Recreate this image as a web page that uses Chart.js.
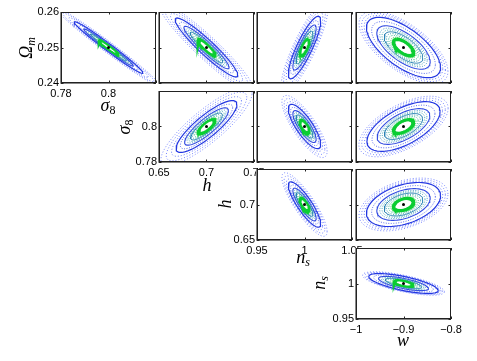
<!DOCTYPE html>
<html>
<head>
<meta charset="utf-8">
<script src="https://cdn.jsdelivr.net/npm/chart.js@4.4.0/dist/chart.umd.min.js"></script>
<style>
  body { margin: 0; background: #fff; }
  #page { position: relative; width: 477px; height: 361px; overflow: hidden; }
  canvas { position: absolute; }
  .lab { position: absolute; font-family: 'Liberation Serif', serif; font-size: 18px; font-style: italic;
         white-space: nowrap; line-height: 1; transform: translate(-50%, -50%); color: #000; }
  .lab.rot { transform: translate(-50%, -50%) rotate(-90deg); }
  .lab sub { font-size: 12px; vertical-align: -3px; }
  .lab .up { font-style: normal; }
</style>
</head>
<body>
<div id="page"></div>
<script>
// parameters: Omega_m, sigma_8, h, n_s, w
const fiducial = [0.25, 0.8, 0.7, 1.0, -0.9];
const axisMin = [0.24, 0.78, 0.65, 0.95, -1];
const axisMax = [0.26, 0.82, 0.75, 1.05, -0.8];
const tickValues = [
  [0.24, 0.25, 0.26],
  [0.78, 0.8, 0.82],
  [0.65, 0.7, 0.75],
  [0.95, 1, 1.05],
  [-1, -0.9, -0.8]
];
const tickLabels = [
  ['0.24', '0.25', '0.26'],
  ['0.78', '0.8', '0.82'],
  ['0.65', '0.7', '0.75'],
  ['0.95', '1', '1.05'],
  ['\u22121', '\u22120.9', '\u22120.8']
];

// one entry per panel: y parameter, x parameter, ellipse half sizes and correlation
const panelRow = [0, 0, 0, 0, 1, 1, 1, 2, 2, 3];
const panelCol = [1, 2, 3, 4, 2, 3, 4, 3, 4, 4];
const sigmaX = [0.0145, 0.033, 0.017, 0.078, 0.032, 0.017, 0.077, 0.017, 0.078, 0.073];
const sigmaY = [0.0073, 0.0083, 0.0088, 0.0085, 0.0146, 0.0125, 0.014, 0.032, 0.031, 0.014];
const rho = [-0.985, -0.94, 0.85, -0.66, 0.85, -0.8, 0.6, -0.85, 0.4, -0.7];
const spread = [1.5, 1.5, 1.45, 1.2, 1.5, 1.4, 1.22, 1.4, 1.2, 1.18];

// layout
const colLeft = [61, 159, 257, 356];
const rowTop = [12, 91, 169, 248];
const panelW = 95, panelH = 71;
const padL = 42, padT = 10, padR = 16, padB = 22;
const xLabelCount = [2, 3, 3, 3];
const yLabelCount = [3, 2, 2, 2];

// contour rings, inner first (first dataset is drawn on top)
const rings = [
  { f: 0.2, color: '#fff', width: 0, fill: '#fff' },
  { f: 0.27, color: 'rgb(10,205,50)', width: 3.5 },
  { f: 0.34, color: 'rgb(60,200,90)', width: 1, dash: [1, 1] },
  { f: 0.4, color: 'rgb(40,180,140)', width: 1, dash: [1, 1.5] },
  { f: 0.46, color: 'rgb(60,165,170)', width: 1, dash: [1, 1.5] },
  { f: 0.52, color: 'rgb(40,130,180)', width: 1 },
  { f: 0.58, color: 'rgb(70,170,180)', width: 1, dash: [1, 1.5] },
  { f: 0.64, color: 'rgb(80,160,200)', width: 1, dash: [1, 1.5] },
  { f: 0.72, color: 'rgb(50,75,225)', width: 1.1 },
  { f: 0.86, color: 'rgb(90,110,240)', width: 1, dash: [1, 1.5] },
  { f: 1, color: 'rgb(35,55,225)', width: 1.2 },
  { t: 0.3, color: 'rgb(100,120,250)', width: 1, dash: [1, 2] },
  { t: 0.65, color: 'rgb(115,130,255)', width: 1, dash: [1, 2] },
  { t: 1, color: 'rgb(125,140,255)', width: 1, dash: [1, 2] }
];

function ellipsePoints(k, f) {
  const cx = fiducial[panelCol[k]], cy = fiducial[panelRow[k]];
  const ax = sigmaX[k] * f, ay = sigmaY[k] * f;
  const r = rho[k], q = Math.sqrt(1 - r * r);
  const pts = [];
  for (let a = 0; a <= 360; a += 4) {
    const t = a * Math.PI / 180;
    pts.push({ x: cx + ax * Math.cos(t), y: cy + ay * (r * Math.cos(t) + q * Math.sin(t)) });
  }
  return pts;
}

const framePlugin = {
  id: 'frame',
  beforeDatasetsDraw(chart) {
    const a = chart.chartArea, ctx = chart.ctx;
    ctx.save();
    ctx.fillStyle = '#fff';
    ctx.fillRect(a.left, a.top, a.right - a.left, a.bottom - a.top);
    ctx.restore();
  },
  afterDraw(chart) {
    const a = chart.chartArea, ctx = chart.ctx;
    const k = chart.options.panelIndex;
    ctx.save();
    ctx.strokeStyle = '#222';
    ctx.lineWidth = 1;
    ctx.strokeRect(Math.round(a.left) + 0.5, Math.round(a.top) + 0.5,
      Math.round(a.right - a.left) - 1, Math.round(a.bottom - a.top) - 1);
    ctx.strokeStyle = '#888';
    ctx.beginPath();
    ctx.moveTo(Math.round(a.left) - 0.5, Math.round(a.top));
    ctx.lineTo(Math.round(a.left) - 0.5, Math.round(a.bottom) + 0.5);
    ctx.lineTo(Math.round(a.right), Math.round(a.bottom) + 0.5);
    ctx.stroke();
    ctx.strokeStyle = '#222';
    ctx.beginPath();
    tickValues[panelCol[k]].forEach(v => {
      const x = Math.round(chart.scales.x.getPixelForValue(v)) + 0.5;
      ctx.moveTo(x, a.bottom); ctx.lineTo(x, a.bottom - 2.5);
      ctx.moveTo(x, a.top); ctx.lineTo(x, a.top + 2.5);
    });
    tickValues[panelRow[k]].forEach(v => {
      const y = Math.round(chart.scales.y.getPixelForValue(v)) + 0.5;
      ctx.moveTo(a.left, y); ctx.lineTo(a.left + 2.5, y);
      ctx.moveTo(a.right, y); ctx.lineTo(a.right - 2.5, y);
    });
    ctx.stroke();
    ctx.restore();
  }
};

function noPadding(scale) {
  scale.paddingLeft = 0;
  scale.paddingRight = 0;
  scale.paddingTop = 0;
  scale.paddingBottom = 0;
}

const page = document.getElementById('page');

for (let k = 0; k < panelRow.length; k++) {
  const r = panelRow[k], c = panelCol[k] - 1;
  const diag = (r === c);
  const canvas = document.createElement('canvas');
  canvas.width = panelW + padL + padR;
  canvas.height = panelH + padT + padB;
  canvas.style.left = (colLeft[c] - padL) + 'px';
  canvas.style.top = (rowTop[r] - padT) + 'px';
  page.appendChild(canvas);

  const datasets = [{
    data: [{ x: fiducial[panelCol[k]], y: fiducial[panelRow[k]] }],
    showLine: false,
    pointRadius: 1.5,
    pointBackgroundColor: '#000',
    pointBorderWidth: 0
  }];
  rings.forEach(ring => {
    const f = ring.f !== undefined ? ring.f : 1 + (spread[k] - 1) * ring.t;
    datasets.push({
      data: ellipsePoints(k, f),
      showLine: true,
      pointRadius: 0,
      borderColor: ring.color,
      borderWidth: ring.width,
      borderDash: ring.dash || [],
      backgroundColor: ring.fill || 'transparent',
      fill: ring.fill ? 'shape' : false,
      tension: 0
    });
  });

  const xShown = diag ? xLabelCount[c] : 0;
  const yShown = diag ? yLabelCount[r] : 0;
  const xi = panelCol[k], yi = panelRow[k];

  new Chart(canvas, {
    type: 'scatter',
    data: { datasets: datasets },
    options: {
      panelIndex: k,
      responsive: false,
      animation: false,
      devicePixelRatio: 1,
      layout: { padding: { left: 0, top: padT, right: padR, bottom: 0 } },
      plugins: { legend: { display: false }, tooltip: { enabled: false } },
      scales: {
        x: {
          type: 'linear',
          min: axisMin[xi], max: axisMax[xi],
          grid: { display: false, drawTicks: false },
          border: { display: false },
          afterBuildTicks: (scale) => {
            scale.ticks = tickValues[xi].slice(0, xShown).map(v => ({ value: v }));
          },
          afterFit: (scale) => { scale.height = padB; noPadding(scale); },
          ticks: {
            display: xShown > 0,
            padding: 4,
            maxRotation: 0,
            autoSkip: false,
            color: '#000',
            font: { family: 'Liberation Sans', size: 11 },
            callback: (v) => tickLabels[xi][tickValues[xi].indexOf(v)]
          }
        },
        y: {
          type: 'linear',
          min: axisMin[yi], max: axisMax[yi],
          grid: { display: false, drawTicks: false },
          border: { display: false },
          afterBuildTicks: (scale) => {
            scale.ticks = tickValues[yi].slice(0, yShown).map(v => ({ value: v }));
          },
          afterFit: (scale) => { scale.width = padL; noPadding(scale); },
          ticks: {
            display: yShown > 0,
            padding: 2,
            autoSkip: false,
            color: '#000',
            font: { family: 'Liberation Sans', size: 11 },
            callback: (v) => tickLabels[yi][tickValues[yi].indexOf(v)]
          }
        }
      }
    },
    plugins: [framePlugin]
  });
}

// axis titles
const titles = [
  { html: '\u03A9<sub>m</sub>', x: 27, y: 48, rot: true },
  { html: '\u03C3<sub class="up">8</sub>', x: 108, y: 106 },
  { html: '\u03C3<sub class="up">8</sub>', x: 125, y: 127, rot: true },
  { html: 'h', x: 207, y: 185 },
  { html: 'h', x: 225, y: 204, rot: true },
  { html: 'n<sub>s</sub>', x: 303, y: 258 },
  { html: 'n<sub>s</sub>', x: 320, y: 283, rot: true },
  { html: 'w', x: 403, y: 340 }
];
titles.forEach(t => {
  const el = document.createElement('div');
  el.className = 'lab' + (t.rot ? ' rot' : '');
  el.innerHTML = t.html;
  el.style.left = t.x + 'px';
  el.style.top = t.y + 'px';
  page.appendChild(el);
});
</script>
</body>
</html>
